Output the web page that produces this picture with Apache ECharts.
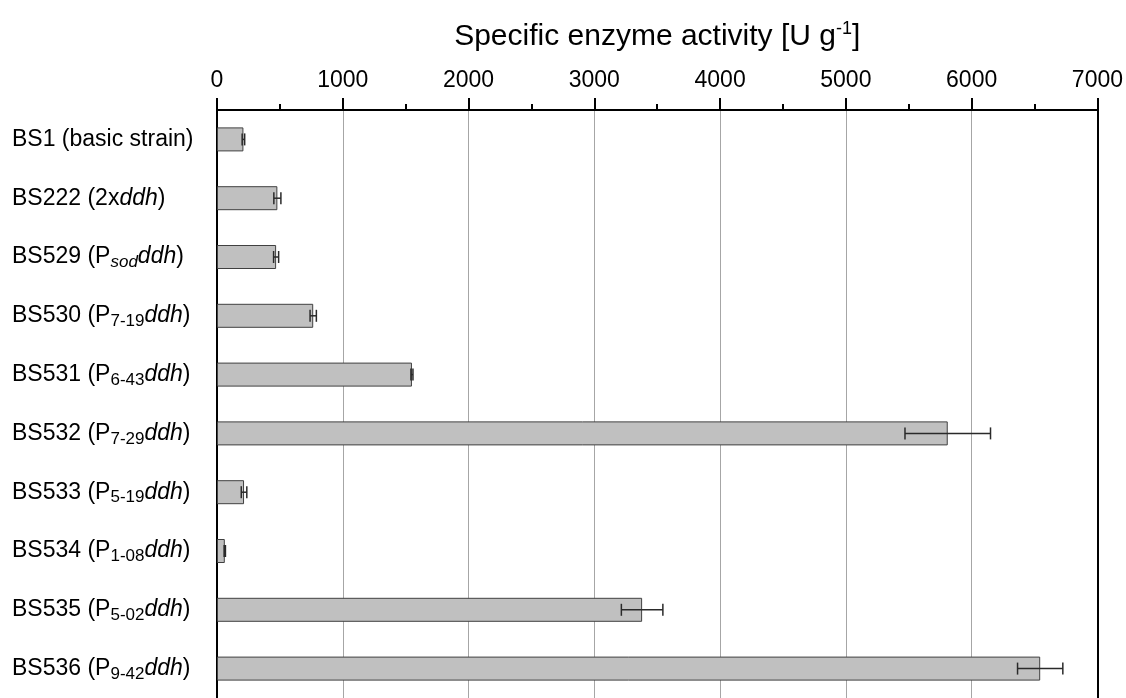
<!DOCTYPE html>
<html>
<head>
<meta charset="utf-8">
<style>
  html, body { margin: 0; padding: 0; background: #fff; }
  #chart { width: 1126px; height: 698px; }
</style>
<script src="https://cdn.jsdelivr.net/npm/echarts@6/dist/echarts.min.js"></script>
</head>
<body>
<div id="chart"></div>
<script>
// Strain labels (rich-text markup: {sub|..} subscript, {it|..} italic, {subit|..} italic subscript)
const categories = [
  'BS1 (basic strain)',
  'BS222 (2x{it|ddh})',
  'BS529 (P{subit|sod}{it|ddh})',
  'BS530 (P{sub|7-19}{it|ddh})',
  'BS531 (P{sub|6-43}{it|ddh})',
  'BS532 (P{sub|7-29}{it|ddh})',
  'BS533 (P{sub|5-19}{it|ddh})',
  'BS534 (P{sub|1-08}{it|ddh})',
  'BS535 (P{sub|5-02}{it|ddh})',
  'BS536 (P{sub|9-42}{it|ddh})'
];

// Specific enzyme activity [U g-1] and standard deviation
const activity = [210, 480, 470, 765, 1550, 5810, 215, 62, 3380, 6545];
const deviation = [10, 28, 20, 25, 8, 340, 22, 5, 165, 180];

// Activity axis ticks
const xMin = 0;
const xMax = 7000;
const xStep = 1000;

const FONT = '"Liberation Sans", Arial, sans-serif';

const chart = echarts.init(document.getElementById('chart'), null, { renderer: 'canvas' });

const errorData = activity.map((v, i) => [i, v - deviation[i], v + deviation[i]]);

chart.setOption({
  animation: false,
  backgroundColor: '#ffffff',
  grid: { left: 217, top: 110, width: 881, height: 591, containLabel: false },
  xAxis: {
    type: 'value',
    position: 'top',
    min: xMin,
    max: xMax,
    interval: xStep,
    name: 'Specific enzyme activity [U g{sup|-1}]',
    nameLocation: 'middle',
    nameGap: 56,
    nameTextStyle: {
      fontFamily: FONT, fontSize: 30, color: '#000', lineHeight: 34,
      rich: {
        sup: { fontFamily: FONT, fontSize: 18, color: '#000', verticalAlign: 'top', lineHeight: 18 }
      }
    },
    axisLine: { show: true, lineStyle: { color: '#000', width: 2 } },
    axisTick: { show: true, inside: false, length: 12, lineStyle: { color: '#000', width: 2 } },
    minorTick: { show: true, splitNumber: 2, length: 6, lineStyle: { color: '#000', width: 2 } },
    axisLabel: {
      fontFamily: FONT, fontSize: 23, color: '#000', margin: 18,
      formatter: function (v) { return String(v); }
    },
    splitLine: { show: true, lineStyle: { color: '#a6a6a6', width: 1 } }
  },
  yAxis: [
    {
      type: 'category',
      data: categories,
      inverse: true,
      axisLine: { show: true, onZero: false, lineStyle: { color: '#000', width: 2 } },
      axisTick: { show: false },
      splitLine: { show: false },
      axisLabel: {
        fontFamily: FONT, fontSize: 23, color: '#000', margin: 205, align: 'left',
        lineHeight: 28,
        rich: {
          it: { fontFamily: FONT, fontSize: 23, color: '#000', fontStyle: 'italic', lineHeight: 28 },
          sub: { fontFamily: FONT, fontSize: 17, color: '#000', verticalAlign: 'bottom', lineHeight: 16 },
          subit: { fontFamily: FONT, fontSize: 17, color: '#000', fontStyle: 'italic', verticalAlign: 'bottom', lineHeight: 16 }
        }
      }
    },
    {
      // frame line on the right side of the plot
      type: 'category',
      data: categories,
      inverse: true,
      position: 'right',
      axisLine: { show: true, onZero: false, lineStyle: { color: '#000', width: 2 } },
      axisTick: { show: false },
      axisLabel: { show: false },
      splitLine: { show: false }
    }
  ],
  series: [
    {
      type: 'bar',
      data: activity,
      yAxisIndex: 0,
      barWidth: 24,
      itemStyle: { color: '#c0c0c0', borderColor: '#404040', borderWidth: 1 },
      z: 2
    },
    {
      type: 'custom',
      yAxisIndex: 0,
      data: errorData,
      encode: { x: [1, 2], y: 0 },
      z: 3,
      renderItem: function (params, api) {
        const idx = api.value(0);
        const lo = api.coord([api.value(1), idx]);
        const hi = api.coord([api.value(2), idx]);
        const h = 6;
        const style = { stroke: '#2a2a2a', lineWidth: 1.5, fill: null };
        return {
          type: 'group',
          children: [
            { type: 'line', shape: { x1: lo[0], y1: lo[1], x2: hi[0], y2: hi[1] }, style: style },
            { type: 'line', shape: { x1: lo[0], y1: lo[1] - h, x2: lo[0], y2: lo[1] + h }, style: style },
            { type: 'line', shape: { x1: hi[0], y1: hi[1] - h, x2: hi[0], y2: hi[1] + h }, style: style }
          ]
        };
      }
    }
  ]
});
</script>
</body>
</html>
